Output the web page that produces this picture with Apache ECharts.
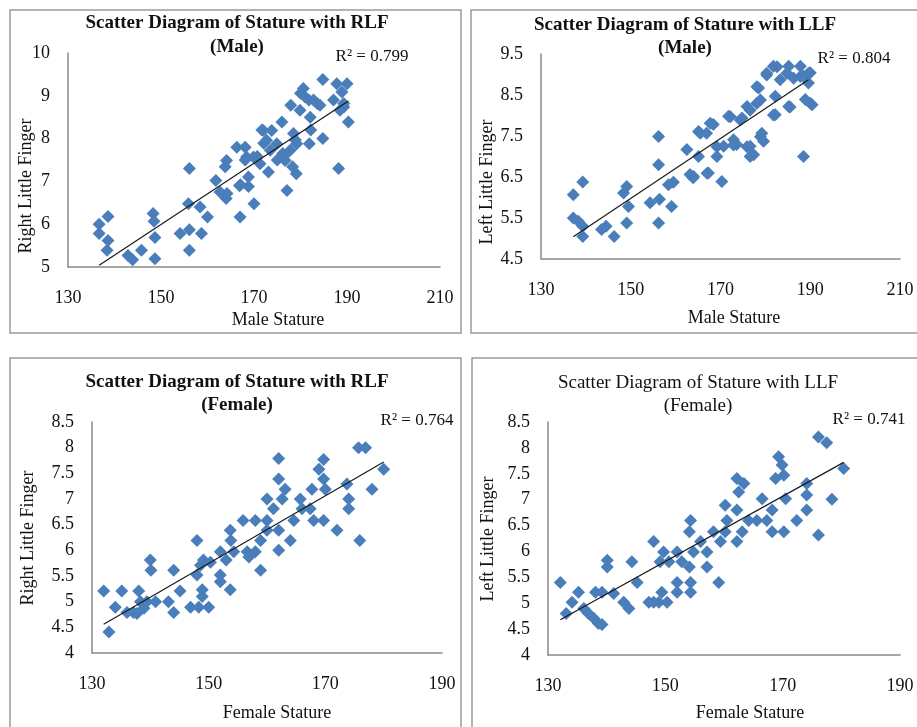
<!DOCTYPE html>
<html><head><meta charset="utf-8">
<script src="https://cdn.jsdelivr.net/npm/echarts@6/dist/echarts.min.js"></script>
<style>html,body{margin:0;padding:0;background:#fff}#c{width:917px;height:727px}</style>
</head><body><div id="c"></div>
<script>
// ---- data (stature cm, finger length cm) ----
const maleRLF = [[136.7,6.0],[136.7,5.78],[138.6,6.18],[138.6,5.62],[138.4,5.39],[142.9,5.27],[143.9,5.17],[145.8,5.39],[148.3,6.25],[148.5,6.07],[148.7,5.69],[148.7,5.19],[154.1,5.78],[156.1,5.87],[156.1,5.39],[156.1,7.3],[155.9,6.48],[158.4,6.4],[158.7,5.78],[160,6.17],[161.8,7.02],[162.7,6.75],[164.1,7.49],[164,6.6],[164.2,6.72],[163.8,7.34],[166.3,7.8],[167,6.17],[166.9,6.9],[168.1,7.8],[168.4,7.57],[168.8,7.1],[168.8,6.88],[170,6.48],[169.9,7.57],[171.3,7.41],[172,8.19],[172.7,7.96],[173.1,7.22],[173.8,8.19],[174.9,7.88],[176,8.39],[176.2,7.65],[176.7,7.49],[177.1,6.79],[177.9,8.78],[178.5,8.12],[178.3,7.34],[179.1,7.18],[179.2,7.88],[179.9,8.66],[180.6,9.17],[181,8.97],[182.1,8.5],[181.9,7.88],[182.8,8.9],[184.2,8.78],[184.8,9.38],[184.8,8.0],[187.8,9.28],[188.2,7.3],[187.1,8.9],[188.9,9.09],[189.3,8.74],[190,9.28],[190.3,8.39],[188.5,8.66],[167.1,6.92],[171.7,8.2],[172.1,7.89],[170.7,7.58],[176.4,7.58],[177.8,7.73],[178.9,7.97],[180,9.06],[183.6,8.82],[182.2,8.2],[175,7.5],[173.5,7.73],[168.1,7.5],[189.3,8.82],[181.8,8.9]];
const maleLLF = [[137.2,6.07],[139.3,6.38],[137.2,5.5],[138.3,5.42],[139.3,5.3],[139.3,5.05],[143.5,5.22],[144.5,5.3],[146.3,5.05],[148.4,6.11],[149.1,6.27],[149.5,5.78],[149.1,5.38],[154.3,5.87],[156.4,5.96],[156.2,5.38],[156.2,7.49],[156.2,6.8],[158.4,6.31],[159.5,6.37],[159.1,5.78],[162.5,7.17],[163.2,6.56],[163.9,6.48],[165.1,7.61],[165.1,7.0],[166.9,7.57],[167.3,6.6],[168.4,7.78],[169.2,7.0],[170.3,6.39],[170.7,7.25],[171.8,7.98],[172.9,7.41],[173.6,7.29],[174.8,7.94],[175.9,8.22],[176.6,7.25],[177.4,7.04],[178.1,8.3],[178.5,8.67],[179.2,7.57],[179.6,7.37],[180.3,8.99],[181.8,9.2],[182.2,8.47],[182.2,8.02],[183.3,8.87],[185.2,9.2],[185.2,8.22],[186.3,8.91],[187.8,9.2],[188.5,7.0],[188.9,8.39],[189.6,8.79],[190,9.04],[190.4,8.26],[188.5,8.96],[165.5,7.57],[167.7,7.81],[172.2,7.97],[174.4,7.89],[176.6,8.13],[178.9,8.38],[178.1,8.7],[180.3,9.03],[182.6,9.19],[184.8,9.03],[187.8,8.95],[189.6,9.03],[164,6.51],[167,6.59],[169.2,7.24],[172.9,7.28],[175.9,7.24],[176.6,7.0],[178.9,7.48],[181.8,8.01],[185.5,8.21],[190,8.3]];
const femaleRLF = [[132,5.21],[132.9,4.41],[134,4.89],[135.1,5.21],[136,4.79],[137.1,4.79],[138,5.21],[138.3,5.0],[137.7,4.77],[138.9,4.87],[140,5.81],[140.1,5.61],[139.4,5.0],[140.9,5.0],[143.1,5.0],[144,5.61],[144,4.79],[145.1,5.21],[146.9,4.89],[148,6.19],[148,5.52],[148.3,4.89],[148.6,5.71],[148.9,5.23],[148.9,5.1],[149.1,5.81],[150,4.89],[150.3,5.77],[152,5.97],[152,5.52],[152,5.39],[153,5.81],[153.7,6.39],[153.8,6.19],[153.7,5.23],[154.3,5.97],[155.9,6.58],[156.6,5.97],[156.9,5.87],[158,6.58],[158,5.97],[158.9,5.61],[158.9,6.19],[160,6.58],[160,7.0],[160,6.39],[162,7.79],[162,7.39],[162,6.39],[162,6.0],[161.1,6.81],[162.6,7.0],[163.1,7.19],[164,6.19],[164.6,6.58],[165.7,7.0],[166,6.81],[167.4,6.81],[167.7,7.19],[168,6.58],[168.9,7.58],[169.7,7.77],[169.7,7.39],[169.7,6.58],[170,7.19],[172,6.39],[173.7,7.29],[174,7.0],[174,6.81],[175.7,8.0],[176.9,8.0],[175.9,6.19],[178,7.19],[180,7.58]];
const femaleLLF = [[132.1,5.4],[133.1,4.8],[134.1,5.02],[135.2,5.21],[136.1,4.9],[136.9,4.8],[137.8,4.71],[138.6,4.61],[139.2,4.59],[138.1,5.21],[139.2,5.21],[140.1,5.83],[140.1,5.7],[141.2,5.19],[142.9,5.02],[143.8,4.9],[144.3,5.8],[145.2,5.4],[147.2,5.02],[148,6.19],[148,5.02],[148.9,5.02],[149.1,5.8],[149.4,5.21],[149.7,5.99],[150.3,5.02],[150.6,5.8],[152,5.99],[152,5.4],[152,5.21],[152.8,5.8],[154.3,6.6],[154.1,6.38],[154.3,5.4],[154.3,5.21],[154.1,5.7],[154.8,5.99],[156,6.19],[157.1,5.99],[157.1,5.7],[158.2,6.38],[159.1,5.4],[159.4,6.19],[160.2,6.89],[160.5,6.6],[160.2,6.38],[162.2,7.41],[162.5,7.15],[162.2,6.8],[162.2,6.19],[163.4,7.31],[163.1,6.38],[164.2,6.6],[165.6,6.6],[166.5,7.02],[167.3,6.6],[168.2,6.8],[168.2,6.38],[168.8,7.41],[169.3,7.83],[169.9,7.67],[170.2,7.47],[170.5,7.02],[170.2,6.38],[172.4,6.6],[174.1,7.31],[174.1,7.09],[174.1,6.8],[176.1,8.21],[177.5,8.1],[176.1,6.32],[178.4,7.01],[180.4,7.6]];
// linear trend line end points
const trendMaleRLF = [[136.7,5.04],[190.3,8.88]];
const trendMaleLLF = [[137.2,5.04],[189.6,8.87]];
const trendFemaleRLF = [[132,4.56],[180,7.72]];
const trendFemaleLLF = [[132.1,4.68],[180.4,7.72]];
const rSquared = ['0.799','0.804','0.764','0.741'];
const titles = [['Scatter Diagram of Stature with RLF','(Male)'],['Scatter Diagram of Stature with LLF','(Male)'],['Scatter Diagram of Stature with RLF','(Female)'],['Scatter Diagram of Stature with LLF','(Female)']];
const xNames = ['Male Stature','Male Stature','Female Stature','Female Stature'];
const yNames = ['Right Little Finger','Left Little Finger','Right Little Finger','Left Little Finger'];
const xRanges = [[130,210,20],[130,210,20],[130,190,20],[130,190,20]];
const yRanges = [[5,10,1],[4.5,9.5,0.5],[4,8.5,0.5],[4,8.5,0.5]];

// ---- layout ----
const FONT = 'Liberation Serif';
const grids = [
  {left:68, top:53, width:372, height:214},
  {left:541, top:54, width:359, height:205},
  {left:92, top:422, width:350, height:231},
  {left:548, top:422, width:352, height:233}
];
const layout = [
  {t1:[237,23], t2:[237,47], r2:[372,57], xn:[278,320], yn:[26,186], bold:true},
  {t1:[685,25], t2:[685,48], r2:[854,59], xn:[734,318], yn:[487,182], bold:true},
  {t1:[237,382], t2:[237,405], r2:[417,421], xn:[277,713], yn:[28,538], bold:true},
  {t1:[698,383], t2:[698,406], r2:[869,420], xn:[750,713], yn:[488,539], bold:false}
];
const datasets = [maleRLF, maleLLF, femaleRLF, femaleLLF];
const trends = [trendMaleRLF, trendMaleLLF, trendFemaleRLF, trendFemaleLLF];

const xAxis = [], yAxis = [], series = [], graphic = [];
// panel borders
[[10,10,451,323],[471,10,460,323],[10,358,451,380],[472,358,460,380]].forEach(b=>{
  graphic.push({type:'rect', shape:{x:b[0],y:b[1],width:b[2],height:b[3]}, style:{fill:'none', stroke:'#9a9a9a', lineWidth:1.5}, silent:true});
});
for (let i=0;i<4;i++){
  const yr = yRanges[i];
  xAxis.push({gridIndex:i, type:'value', min:xRanges[i][0], max:xRanges[i][1], interval:xRanges[i][2],
    axisLine:{show:true, onZero:false, lineStyle:{color:'#8a8a8a', width:1.5}}, axisTick:{show:false}, splitLine:{show:false},
    axisLabel:{fontFamily:FONT, fontSize:18, color:'#111', margin:22}});
  yAxis.push({gridIndex:i, type:'value', min:yr[0], max:yr[1], interval:yr[2],
    axisLine:{show:true, onZero:false, lineStyle:{color:'#8a8a8a', width:1.5}}, axisTick:{show:false}, splitLine:{show:false},
    axisLabel:{fontFamily:FONT, fontSize:18, color:'#111', margin:18,
      formatter: v => (i===1 && Math.abs(v - Math.round(v)) < 1e-6) ? '' : String(+v.toFixed(1))}});
  series.push({type:'scatter', xAxisIndex:i, yAxisIndex:i, data:datasets[i], symbol:'diamond', symbolSize:13,
    itemStyle:{color:'#4a7ebb', opacity:1}, z:2});
  series.push({type:'line', xAxisIndex:i, yAxisIndex:i, data:trends[i], symbol:'none', silent:true,
    lineStyle:{color:'#1a1a1a', width:1.2}, z:3});
  const L = layout[i];
  const tStyle = {fontFamily:FONT, fontSize:19, fontWeight:L.bold?'bold':'normal', fill:'#111', align:'center', verticalAlign:'middle'};
  graphic.push({type:'text', x:L.t1[0], y:L.t1[1], style:Object.assign({text:titles[i][0]}, tStyle)});
  graphic.push({type:'text', x:L.t2[0], y:L.t2[1], style:Object.assign({text:titles[i][1]}, tStyle)});
  graphic.push({type:'text', x:L.r2[0], y:L.r2[1], style:{text:'R² = '+rSquared[i], fontFamily:FONT, fontSize:17, fill:'#111', align:'center', verticalAlign:'middle'}});
  graphic.push({type:'text', x:L.xn[0], y:L.xn[1], style:{text:xNames[i], fontFamily:FONT, fontSize:18, fill:'#111', align:'center', verticalAlign:'middle'}});
  graphic.push({type:'text', x:L.yn[0], y:L.yn[1], rotation:Math.PI/2, style:{text:yNames[i], fontFamily:FONT, fontSize:18, fill:'#111', align:'center', verticalAlign:'middle'}});
}
const chart = echarts.init(document.getElementById('c'));
chart.setOption({
  backgroundColor:'#fff', animation:false,
  grid: grids, xAxis, yAxis, series, graphic
});
</script></body></html>
